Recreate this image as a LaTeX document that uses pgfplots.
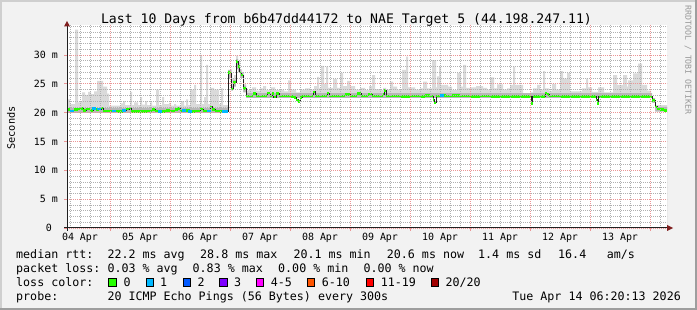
\documentclass[border=0pt]{standalone}
\usepackage{pgfplots}
\usepackage{pgfplotstable}
\pgfplotsset{compat=1.18}
\usepackage{fontspec}
\setmainfont{DejaVu Sans Mono}
\definecolor{bgc}{HTML}{F2F2F2}
\definecolor{shadea}{HTML}{CFCFCF}
\definecolor{shadeb}{HTML}{9E9E9E}
\definecolor{smoke}{HTML}{DADADA}
\definecolor{smokedark}{HTML}{B8B8B8}
\definecolor{lgreen}{HTML}{26FF00}
\definecolor{lcyan}{HTML}{00B8FF}
\definecolor{lblue}{HTML}{0059FF}
\definecolor{lpurple}{HTML}{7E00FF}
\definecolor{lmag}{HTML}{FF00FF}
\definecolor{lorange}{HTML}{FF5500}
\definecolor{lred}{HTML}{FF0000}
\definecolor{ldred}{HTML}{A00000}
\definecolor{mgridc}{HTML}{EB9595}
\definecolor{ngridc}{HTML}{B0B0B0}
\definecolor{arrowc}{HTML}{801F1F}
\definecolor{axisc}{HTML}{1F1F1F}
\newcommand\lf{\fontsize{11.7}{14}\selectfont}

% median rtt (ms) -- x in hours since 04 Apr 00:00
\pgfplotstableread{
h v
6.8 20.5
8.0 20.3
9.6 20.5
11.2 20.6
12.0 20.7
13.2 20.4
14.4 20.6
16.0 20.4
17.2 20.7
18.4 20.5
19.6 20.6
20.4 20.8
21.2 20.3
27.2 20.2
29.2 20.4
30.4 20.6
31.6 20.8
32.4 20.2
39.2 20.3
40.8 20.5
42.0 20.3
44.0 20.2
46.4 20.4
48.0 20.3
50.0 20.5
51.2 20.7
52.0 20.3
53.6 20.4
56.0 20.2
58.4 20.3
60.0 20.6
61.2 20.3
64.0 21.0
64.8 20.5
66.0 20.3
68.0 20.2
71.2 27.0
72.4 24.1
73.2 25.2
74.4 28.9
75.2 28.0
75.8 27.0
76.4 26.5
77.2 24.2
78.4 22.9
81.2 23.3
82.4 22.9
86.8 23.4
88.0 22.9
88.8 23.3
89.4 22.7
90.4 23.3
91.6 22.9
96.0 22.8
97.6 22.6
98.4 22.2
99.2 21.9
100.0 22.6
100.8 22.9
105.2 23.6
106.0 22.9
110.8 23.4
111.6 22.9
118.0 23.1
120.0 22.9
122.8 23.3
124.4 22.9
127.2 23.1
128.8 22.9
133.2 23.1
133.6 23.8
134.4 22.9
140.0 22.8
144.0 22.9
148.0 22.8
150.0 23.0
152.0 22.9
153.2 22.3
153.6 21.7
154.4 22.9
156.0 23.0
158.4 22.9
160.8 23.0
164.0 22.9
168.0 22.8
172.0 22.9
176.0 22.8
192.4 21.6
193.0 22.8
198.0 23.4
198.8 23.2
199.6 22.9
204.0 22.8
218.4 22.2
218.8 21.6
219.4 22.8
240.8 22.1
242.0 21.0
242.8 20.6
244.0 20.5
245.6 20.4
246.8 20.4
}\medtab

% intervals with 1 of 20 pings lost
\pgfplotstableread{
h v
8.8 20.3
17.6 20.7
19.6 20.6
25.6 20.3
29.6 20.4
44.0 20.2
53.6 20.4
56.0 20.2
63.6 20.3
69.6 20.2
70.4 20.2
156.8 23.0
}\losstab

% smoke: highest ping of each interval
\pgfplotstableread{
h v
6.8 22.3
8.0 21.5
10.0 34.4
11.2 21.8
12.0 22.0
12.8 23.5
14.0 23.1
15.2 23.6
16.4 23.2
17.6 23.7
18.8 25.5
21.2 24.5
22.8 23.3
23.6 21.2
28.4 21.6
29.2 22.0
30.0 21.3
32.0 23.6
32.8 21.3
33.6 21.8
35.2 21.3
36.0 22.7
36.8 21.4
38.0 22.0
38.8 21.3
40.0 21.8
40.8 21.2
42.4 24.0
43.6 21.3
44.8 22.7
45.6 21.5
47.6 21.7
48.4 21.2
49.6 21.5
50.4 21.2
52.4 22.0
53.6 21.2
54.4 22.3
55.2 21.3
56.0 24.0
57.6 24.8
58.4 21.5
60.0 30.0
60.8 21.5
61.6 22.7
62.4 28.3
63.2 21.5
64.0 24.3
65.6 24.0
67.6 21.5
68.4 24.2
69.2 21.3
71.2 27.3
72.0 27.5
72.8 26.0
73.6 26.5
74.4 29.9
75.2 29.0
76.0 27.5
76.8 27.0
77.6 25.0
78.4 23.8
79.2 23.9
80.8 24.4
82.4 23.8
84.0 24.2
85.2 24.6
86.4 23.9
88.4 24.4
90.0 23.9
92.0 24.0
93.6 23.7
95.2 25.6
96.4 24.0
98.4 23.5
100.0 24.0
102.0 24.2
104.0 24.0
105.6 24.6
106.8 26.2
107.6 24.2
108.4 28.1
109.6 25.0
110.4 28.0
111.2 24.3
113.2 25.8
114.8 24.3
116.0 26.9
117.2 24.6
118.8 25.5
120.0 24.6
122.0 24.0
124.0 24.3
126.0 23.9
127.6 24.6
128.8 26.5
130.0 24.1
132.0 23.9
133.2 24.3
134.4 24.0
136.0 25.4
137.2 24.5
138.8 24.0
140.8 27.4
142.4 29.7
143.2 24.4
146.0 24.0
148.0 24.2
149.2 25.4
150.8 24.2
152.8 29.1
154.4 24.4
154.8 26.3
155.6 28.0
156.4 24.8
159.2 24.5
160.8 23.9
162.8 26.9
164.4 24.5
165.2 28.3
166.4 24.3
168.0 24.4
170.4 24.6
173.2 24.3
174.8 24.0
176.0 26.1
177.6 24.2
178.8 24.9
181.2 24.0
182.8 24.2
184.0 24.8
185.2 28.0
186.0 24.8
189.2 23.3
192.0 23.5
193.2 24.2
194.8 24.8
196.0 24.0
197.2 27.2
198.0 24.2
199.6 23.8
200.8 25.0
202.4 24.0
204.0 27.2
205.2 25.9
206.8 26.9
208.0 23.7
212.8 24.2
214.4 25.9
215.2 24.4
216.8 23.6
219.2 24.4
221.6 23.5
225.2 26.5
226.8 24.8
229.2 26.5
230.8 24.5
231.2 25.6
233.2 26.8
235.2 28.5
236.8 24.8
238.8 23.8
240.4 21.8
242.0 21.3
246.8 21.3
}\smokeup

% smoke: lowest ping of each interval
\pgfplotstableread{
h v
6.8 19.9
71.2 26.0
72.4 23.8
73.2 24.5
74.4 27.5
75.2 27.0
76.0 26.0
77.2 23.5
78.4 22.5
240.8 21.7
242.0 20.2
246.8 20.2
}\smokelo

% smoke: dense core of each interval
\pgfplotstableread{
h v
6.8 20.8
71.2 27.4
72.4 24.6
73.2 25.7
74.4 29.3
75.2 28.5
75.8 27.5
76.4 27.0
77.2 24.7
78.4 23.4
240.8 22.5
242.0 21.0
246.8 21.0
}\smokecore

\begin{document}
\begin{tikzpicture}
\fill[bgc] (0,0) rectangle (697bp,310bp);
\fill[shadea] (0,308bp) rectangle (697bp,310bp);
\fill[shadea] (0,0) rectangle (2bp,310bp);
\fill[shadeb] (0,0) rectangle (697bp,2bp);
\fill[shadeb] (695bp,0) rectangle (697bp,310bp);
\fill[white] (67bp,82bp) rectangle (667bp,285bp);

\begin{axis}[
  at={(67bp,82bp)}, anchor=south west,
  scale only axis, width=600bp, height=203bp,
  xmin=6.8, xmax=246.8, ymin=0, ymax=35.2,
  axis line style={draw=none},
  axis on top,
  tick pos=left,
  xtick={24,48,...,240}, xticklabels={},
  minor xtick={8,12,...,244},
  extra x ticks={12,36,60,84,108,132,156,180,204,228},
  extra x tick labels={04 Apr,05 Apr,06 Apr,07 Apr,08 Apr,09 Apr,10 Apr,11 Apr,12 Apr,13 Apr},
  extra x tick style={grid=none, major tick length=0pt},
  ytick={0,5,...,30},
  yticklabels={0~~,5~m,10~m,15~m,20~m,25~m,30~m},
  minor ytick={1,2,...,35},
  grid=both,
  major grid style={mgridc, dash pattern=on 1bp off 1bp, line width=0.8bp},
  minor grid style={ngridc, dash pattern=on 1bp off 1bp, line width=0.7bp},
  tick align=outside,
  major tick length=3bp, minor tick length=0pt,
  major tick style={mgridc, line width=0.8bp},
  tick label style={font=\fontsize{10}{12}\selectfont, inner sep=0pt},
  yticklabel style={anchor=east, xshift=-6bp},
  xticklabel style={anchor=north, yshift=-5bp},
]
% smoke: grey up to the highest ping, darker core, white below the lowest ping
\addplot[fill=smoke, draw=none, const plot] table {\smokeup} \closedcycle;
\addplot[fill=smokedark, draw=none, const plot] table {\smokecore} \closedcycle;
\addplot[fill=white, draw=none, const plot] table {\smokelo} \closedcycle;
% median
\addplot[axisc, line width=1bp, const plot] table {\medtab};
\addplot[lgreen, line width=2.6bp, jump mark left] table {\medtab};
\addplot[only marks, mark=-, mark size=1.8bp, mark options={lcyan, line width=2.6bp}] table {\losstab};
\end{axis}

% axes with arrows
\draw[axisc, line width=1bp] (64bp,82bp) -- (668bp,82bp);
\draw[axisc, line width=1bp] (67bp,79bp) -- (67bp,285bp);
\fill[arrowc] (673bp,82bp) -- (667bp,85bp) -- (667bp,79bp) -- cycle;
\fill[arrowc] (67bp,289bp) -- (64bp,283.5bp) -- (70bp,283.5bp) -- cycle;

% title and labels
\node[anchor=base, inner sep=0pt, font=\fontsize{13.2}{16}\selectfont] at (346.5bp,286bp)
  {Last 10 Days from b6b47dd44172 to NAE Target 5 (44.198.247.11)};
\node[rotate=90, inner sep=0pt, font=\fontsize{10.3}{12}\selectfont] at (11bp,182bp) {Seconds};
\node[rotate=-90, inner sep=0pt, text=black!40, font=\fontsize{8.3}{10}\selectfont] at (688bp,250bp) {RRDTOOL / TOBI OETIKER};

% legend
\begin{scope}[every node/.style={anchor=base west, inner sep=0pt, font=\lf}]
\node at (16bp,51.5bp) {median rtt:};
\node at (107.3bp,51.5bp) {22.2 ms avg};
\node at (200bp,51.5bp) {28.8 ms max};
\node at (293.3bp,51.5bp) {20.1 ms min};
\node at (386.7bp,51.5bp) {20.6 ms now};
\node at (478bp,51.5bp) {1.4 ms sd};
\node at (558bp,51.5bp) {16.4};
\node at (606.7bp,51.5bp) {am/s};

\node at (16bp,37.5bp) {packet loss:};
\node at (107.3bp,37.5bp) {0.03 \% avg};
\node at (192.5bp,37.5bp) {0.83 \% max};
\node at (278bp,37.5bp) {0.00 \% min};
\node at (363.3bp,37.5bp) {0.00 \% now};

\node at (16bp,23.5bp) {loss color:};
\node at (123.3bp,23.5bp) {0};
\node at (160bp,23.5bp) {1};
\node at (197.3bp,23.5bp) {2};
\node at (234bp,23.5bp) {3};
\node at (270.7bp,23.5bp) {4-5};
\node at (321.7bp,23.5bp) {6-10};
\node at (380.7bp,23.5bp) {11-19};
\node at (445.3bp,23.5bp) {20/20};

\node at (16bp,9.5bp) {probe:};
\node at (107.3bp,9.5bp) {20 ICMP Echo Pings (56 Bytes) every 300s};
\node[anchor=base east] at (681bp,9.5bp) {Tue Apr 14 06:20:13 2026};
\end{scope}
\begin{scope}[line width=0.8bp]
\filldraw[fill=lgreen, draw=black] (108.7bp,23.6bp) rectangle ++(7.2bp,8bp);
\filldraw[fill=lcyan, draw=black] (146.1bp,23.6bp) rectangle ++(7.2bp,8bp);
\filldraw[fill=lblue, draw=black] (183.1bp,23.6bp) rectangle ++(7.2bp,8bp);
\filldraw[fill=lpurple, draw=black] (219.7bp,23.6bp) rectangle ++(7.2bp,8bp);
\filldraw[fill=lmag, draw=black] (256.4bp,23.6bp) rectangle ++(7.2bp,8bp);
\filldraw[fill=lorange, draw=black] (307.1bp,23.6bp) rectangle ++(7.2bp,8bp);
\filldraw[fill=lred, draw=black] (366.1bp,23.6bp) rectangle ++(7.2bp,8bp);
\filldraw[fill=ldred, draw=black] (431.1bp,23.6bp) rectangle ++(7.2bp,8bp);
\end{scope}
\end{tikzpicture}
\end{document}
